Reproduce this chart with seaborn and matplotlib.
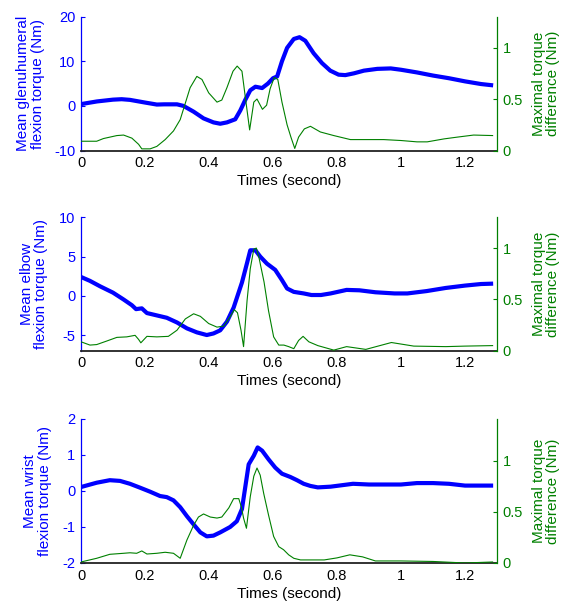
import matplotlib
matplotlib.use("Agg")
import matplotlib.pyplot as plt
import seaborn as sns

# ---------------- data ----------------
# Panel 1: glenohumeral
gh_time = [0, 0.05, 0.1, 0.127, 0.153, 0.2, 0.237, 0.26, 0.3, 0.32, 0.352, 0.383, 0.414,
           0.435, 0.456, 0.482, 0.498, 0.513, 0.529, 0.545, 0.566, 0.584, 0.6, 0.613,
           0.628, 0.644, 0.665, 0.683, 0.701, 0.727, 0.753, 0.779, 0.805, 0.826, 0.853,
           0.884, 0.926, 0.968, 1.0, 1.05, 1.1, 1.15, 1.2, 1.25, 1.288]
gh_mean = [0.4, 1.0, 1.4, 1.5, 1.35, 0.75, 0.3, 0.35, 0.35, 0.0, -1.3, -2.8, -3.7,
           -4.0, -3.7, -3.0, -1.0, 1.3, 3.5, 4.3, 4.0, 5.0, 6.2, 6.6,
           10.0, 13.0, 15.0, 15.4, 14.6, 11.8, 9.6, 7.9, 7.0, 6.9, 7.3,
           7.9, 8.3, 8.4, 8.1, 7.5, 6.8, 6.2, 5.5, 4.9, 4.6]
gh_diff_time = [0, 0.049, 0.07, 0.112, 0.133, 0.159, 0.18, 0.19, 0.216, 0.237, 0.263,
                0.289, 0.31, 0.326, 0.341, 0.362, 0.378, 0.399, 0.425, 0.44, 0.456,
                0.475, 0.488, 0.503, 0.513, 0.527, 0.54, 0.55, 0.567, 0.58, 0.591,
                0.604, 0.615, 0.628, 0.644, 0.656, 0.668, 0.68, 0.698, 0.717, 0.748,
                0.79, 0.842, 0.946, 1.0, 1.05, 1.082, 1.135, 1.176, 1.227, 1.288]
gh_diff = [0.09, 0.09, 0.116, 0.145, 0.15, 0.12, 0.06, 0.016, 0.016, 0.04, 0.106,
           0.19, 0.3, 0.46, 0.61, 0.72, 0.69, 0.56, 0.47, 0.49, 0.61,
           0.77, 0.82, 0.77, 0.53, 0.2, 0.47, 0.5, 0.4, 0.44, 0.6,
           0.71, 0.69, 0.47, 0.25, 0.13, 0.02, 0.13, 0.21, 0.235, 0.18,
           0.145, 0.106, 0.106, 0.097, 0.084, 0.084, 0.113, 0.13, 0.15, 0.145]

# Panel 2: elbow
el_time = [0, 0.028, 0.06, 0.1, 0.133, 0.159, 0.172, 0.19, 0.206, 0.237, 0.268, 0.3,
           0.331, 0.362, 0.393, 0.414, 0.435, 0.456, 0.477, 0.503, 0.519, 0.529, 0.545,
           0.56, 0.581, 0.607, 0.628, 0.644, 0.665, 0.696, 0.72, 0.75, 0.78, 0.83,
           0.87, 0.92, 0.98, 1.02, 1.08, 1.14, 1.2, 1.25, 1.288]
el_mean = [2.4, 1.9, 1.2, 0.4, -0.47, -1.2, -1.7, -1.6, -2.2, -2.5, -2.8, -3.4,
           -4.15, -4.66, -5.0, -4.8, -4.4, -3.3, -1.5, 1.7, 4.2, 5.8, 5.8,
           5.0, 4.1, 3.3, 2.0, 0.93, 0.5, 0.3, 0.1, 0.1, 0.3, 0.75,
           0.7, 0.45, 0.3, 0.3, 0.6, 1.0, 1.3, 1.5, 1.55]
el_diff_time = [0, 0.028, 0.049, 0.08, 0.112, 0.143, 0.169, 0.18, 0.187, 0.206, 0.237,
                0.273, 0.3, 0.326, 0.352, 0.373, 0.399, 0.425, 0.446, 0.466, 0.479,
                0.489, 0.5, 0.508, 0.519, 0.529, 0.54, 0.548, 0.556, 0.572, 0.586,
                0.602, 0.618, 0.634, 0.649, 0.665, 0.68, 0.694, 0.712, 0.74, 0.79,
                0.83, 0.89, 0.97, 1.04, 1.14, 1.2, 1.288]
el_diff = [0.087, 0.055, 0.06, 0.094, 0.13, 0.135, 0.15, 0.11, 0.077, 0.14, 0.135,
           0.14, 0.2, 0.31, 0.36, 0.335, 0.265, 0.23, 0.24, 0.33, 0.4,
           0.37, 0.2, 0.04, 0.49, 0.8, 0.99, 1.0, 0.91, 0.67, 0.39,
           0.135, 0.055, 0.055, 0.04, 0.02, 0.1, 0.14, 0.087, 0.05, 0.006,
           0.04, 0.013, 0.08, 0.045, 0.04, 0.045, 0.05]

# Panel 3: wrist
wr_time = [0, 0.049, 0.09, 0.122, 0.153, 0.185, 0.216, 0.247, 0.268, 0.289, 0.31,
           0.331, 0.352, 0.373, 0.393, 0.414, 0.435, 0.466, 0.487, 0.503, 0.513,
           0.524, 0.54, 0.552, 0.566, 0.586, 0.607, 0.628, 0.654, 0.675, 0.696,
           0.717, 0.74, 0.78, 0.85, 0.9, 1.0, 1.05, 1.1, 1.15, 1.2, 1.288]
wr_mean = [0.11, 0.23, 0.3, 0.28, 0.2, 0.09, -0.02, -0.14, -0.17, -0.26, -0.45,
           -0.7, -0.93, -1.15, -1.26, -1.24, -1.15, -1.0, -0.84, -0.5, 0.09,
           0.74, 0.98, 1.21, 1.12, 0.88, 0.65, 0.48, 0.39, 0.3, 0.2,
           0.14, 0.1, 0.12, 0.2, 0.18, 0.18, 0.22, 0.22, 0.2, 0.15, 0.15]
wr_diff_time = [0, 0.049, 0.09, 0.133, 0.153, 0.174, 0.19, 0.206, 0.237, 0.263, 0.289,
                0.31, 0.331, 0.352, 0.367, 0.383, 0.404, 0.425, 0.44, 0.462, 0.477,
                0.493, 0.501, 0.508, 0.517, 0.529, 0.54, 0.55, 0.56, 0.571, 0.586,
                0.602, 0.618, 0.633, 0.649, 0.665, 0.686, 0.72, 0.76, 0.8, 0.84,
                0.88, 0.92, 1.0, 1.1, 1.2, 1.288]
wr_diff = [0.01, 0.046, 0.085, 0.095, 0.1, 0.095, 0.118, 0.088, 0.095, 0.105, 0.095,
           0.046, 0.225, 0.37, 0.45, 0.48, 0.45, 0.44, 0.45, 0.54, 0.63,
           0.63, 0.55, 0.44, 0.34, 0.65, 0.85, 0.93, 0.86, 0.68, 0.47,
           0.26, 0.16, 0.13, 0.08, 0.046, 0.03, 0.03, 0.03, 0.05, 0.08,
           0.06, 0.02, 0.02, 0.015, 0.0, 0.01]

x_ticks = [0, 0.2, 0.4, 0.6, 0.8, 1.0, 1.2]
x_tick_labels = ["0", "0.2", "0.4", "0.6", "0.8", "1", "1.2"]
right_ticks = [0, 0.5, 1]
right_tick_labels = ["0", "0.5", "1"]

panels = [
    dict(t=gh_time, m=gh_mean, dt=gh_diff_time, d=gh_diff,
         ylabel="Mean glenuhumeral\nflexion torque (Nm)",
         ylim=(-10, 20), yticks=[-10, 0, 10, 20], rlim=(0, 1.3),
         rect=[0.1444, 0.750, 0.7415, 0.2223], lab_x=-0.087),
    dict(t=el_time, m=el_mean, dt=el_diff_time, d=el_diff,
         ylabel="Mean elbow\nflexion torque (Nm)",
         ylim=(-7, 10), yticks=[-5, 0, 5, 10], rlim=(0, 1.3),
         rect=[0.1444, 0.4174, 0.7415, 0.2216], lab_x=-0.079),
    dict(t=wr_time, m=wr_mean, dt=wr_diff_time, d=wr_diff,
         ylabel="Mean wrist\nflexion torque (Nm)",
         ylim=(-2, 2), yticks=[-2, -1, 0, 1, 2], rlim=(0, 1.41),
         rect=[0.1444, 0.0648, 0.7415, 0.2392], lab_x=-0.070),
]

# ---------------- style ----------------
sns.set_style("white")
plt.rcParams["font.family"] = ["Liberation Sans", "DejaVu Sans"]
plt.rcParams["axes.unicode_minus"] = False

BLUE = "#0000FF"
GREEN = "#008000"
TICK_FS = 10.5
LABEL_FS = 11

fig = plt.figure(figsize=(5.61, 6.02), dpi=100)

for p in panels:
    ax = fig.add_axes(p["rect"])
    ax2 = ax.twinx()

    sns.lineplot(x=p["t"], y=p["m"], ax=ax, color=BLUE, linewidth=3.0,
                 estimator=None, sort=False)
    sns.lineplot(x=p["dt"], y=p["d"], ax=ax2, color=GREEN, linewidth=0.8,
                 estimator=None, sort=False)
    for ln in ax.get_lines() + ax2.get_lines():
        ln.set_solid_joinstyle("round")
        ln.set_solid_capstyle("butt")

    ax.set_xlim(0, 1.3)
    ax.set_ylim(*p["ylim"])
    ax.set_xticks(x_ticks)
    ax.set_xticklabels(x_tick_labels)
    ax.set_yticks(p["yticks"])
    ax.set_yticklabels([str(v) for v in p["yticks"]])
    ax2.set_ylim(*p["rlim"])
    ax2.set_yticks(right_ticks)
    ax2.set_yticklabels(right_tick_labels)

    ax.tick_params(axis="x", direction="in", length=3, width=0.8, colors="black",
                   labelsize=TICK_FS, pad=4)
    ax.tick_params(axis="y", direction="in", length=3, width=0.8, colors=BLUE,
                   labelsize=TICK_FS, pad=4)
    ax2.tick_params(axis="y", direction="in", length=3, width=0.8, colors=GREEN,
                    labelsize=TICK_FS, pad=4)

    for s in ["top", "right"]:
        ax.spines[s].set_visible(False)
    ax.spines["left"].set_color(BLUE)
    ax.spines["left"].set_linewidth(0.9)
    ax.spines["bottom"].set_color("#222222")
    ax.spines["bottom"].set_linewidth(1.3)
    for s in ["top", "left", "bottom"]:
        ax2.spines[s].set_visible(False)
    ax2.spines["right"].set_color(GREEN)
    ax2.spines["right"].set_linewidth(0.9)

    ax.set_xlabel("Times (second)", fontsize=LABEL_FS, color="black", labelpad=3)
    ax.set_ylabel(p["ylabel"], fontsize=LABEL_FS, color=BLUE, linespacing=1.05)
    ax.yaxis.set_label_coords(p["lab_x"], 0.5)
    ax2.set_ylabel("Maximal torque\ndifference (Nm)", fontsize=LABEL_FS, color=GREEN,
                   linespacing=1.05)
    ax2.yaxis.set_label_coords(1.083, 0.5)
    ax.grid(False)
    ax2.grid(False)

fig.savefig("out.png", dpi=100)
